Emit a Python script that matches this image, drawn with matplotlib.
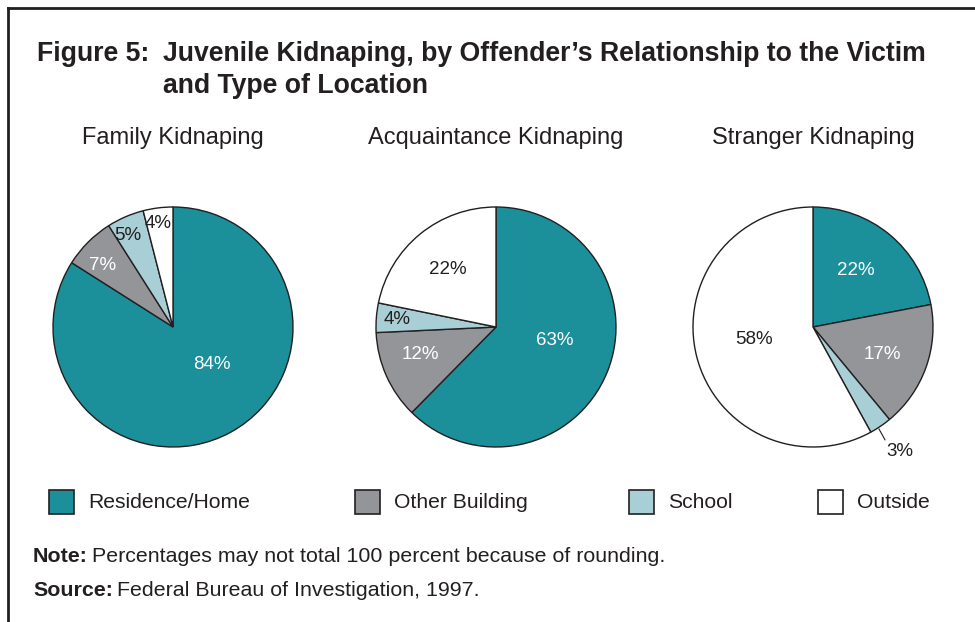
import matplotlib.pyplot as plt
from matplotlib.patches import Rectangle
from matplotlib.lines import Line2D

plt.rcParams['font.family'] = ['Liberation Sans', 'DejaVu Sans']

categories = ['Residence/Home', 'Other Building', 'School', 'Outside']
colors = ['#1b8f9a', '#939598', '#a8cfd6', '#ffffff']
text_colors = ['white', 'white', '#231f20', '#231f20']

panels = ['Family Kidnaping', 'Acquaintance Kidnaping', 'Stranger Kidnaping']
family = [84, 7, 5, 4]
acquaintance = [63, 12, 4, 22]
stranger = [22, 17, 3, 58]
values = [family, acquaintance, stranger]

# label positions relative to pie centre, in radius units
label_pos = [
    [(0.32, -0.31), (-0.59, 0.51), (-0.38, 0.76), (-0.12, 0.86)],
    [(0.49, -0.11), (-0.63, -0.23), (-0.82, 0.06), (-0.40, 0.48)],
    [(0.36, 0.47), (0.58, -0.23), (0.72, -1.04), (-0.49, -0.10)],
]

W, H = 975, 622
fig = plt.figure(figsize=(W / 100, H / 100), dpi=100)
ink = '#231f20'

centers = [173, 496, 813]
cy = 327
R = 120
pad = 1.1

for i, (name, vals) in enumerate(zip(panels, values)):
    cx = centers[i]
    ax = fig.add_axes([(cx - R * pad) / W, (H - cy - R * pad) / H,
                       2 * R * pad / W, 2 * R * pad / H])
    ax.pie(vals, colors=colors, startangle=90, counterclock=False,
           wedgeprops=dict(edgecolor=ink, linewidth=1.0))
    ax.set_xlim(-pad, pad)
    ax.set_ylim(-pad, pad)
    ax.set_aspect('equal')
    ax.axis('off')
    for j, v in enumerate(vals):
        x, y = label_pos[i][j]
        ax.text(x, y, f'{v}%', ha='center', va='center', fontsize=13.5,
                color=text_colors[j])
    if i == 2:
        ax.add_line(Line2D([0.55, 0.6], [-0.85, -0.94], color=ink, lw=0.8))
    fig.text(cx / W, 1 - 138 / H, name, ha='center', va='center',
             fontsize=17, color=ink)

# title
fig.text(37 / W, 1 - 54 / H, 'Figure 5:', ha='left', va='center',
         fontsize=19.2, fontweight='bold', color=ink)
fig.text(163 / W, 1 - 54 / H,
         'Juvenile Kidnaping, by Offender\u2019s Relationship to the Victim',
         ha='left', va='center', fontsize=19.2, fontweight='bold', color=ink)
fig.text(163 / W, 1 - 86 / H, 'and Type of Location', ha='left', va='center',
         fontsize=19.2, fontweight='bold', color=ink)

# legend
box_x = [49, 355, 629, 818]
for bx, lab, col in zip(box_x, categories, colors):
    fig.patches.append(Rectangle((bx / W, 1 - 514 / H), 25 / W, 24 / H,
                                 transform=fig.transFigure, facecolor=col,
                                 edgecolor=ink, linewidth=1.2))
    fig.text((bx + 39) / W, 1 - 503 / H, lab, ha='left', va='center',
             fontsize=15.2, color=ink)

# notes
fig.text(33 / W, 1 - 556 / H, 'Note:', ha='left', va='center',
         fontsize=15.4, fontweight='bold', color=ink)
fig.text(92 / W, 1 - 556 / H,
         'Percentages may not total 100 percent because of rounding.',
         ha='left', va='center', fontsize=15.4, color=ink)
fig.text(33 / W, 1 - 591 / H, 'Source:', ha='left', va='center',
         fontsize=15.4, fontweight='bold', color=ink)
fig.text(117 / W, 1 - 591 / H, 'Federal Bureau of Investigation, 1997.',
         ha='left', va='center', fontsize=15.4, color=ink)

# frame
fig.add_artist(Line2D([8 / W, 1], [1 - 8 / H, 1 - 8 / H], transform=fig.transFigure,
                      color=ink, lw=2))
fig.add_artist(Line2D([8 / W, 8 / W], [1 - 8 / H, 0], transform=fig.transFigure,
                      color=ink, lw=2))

fig.savefig('out.png', dpi=100)
